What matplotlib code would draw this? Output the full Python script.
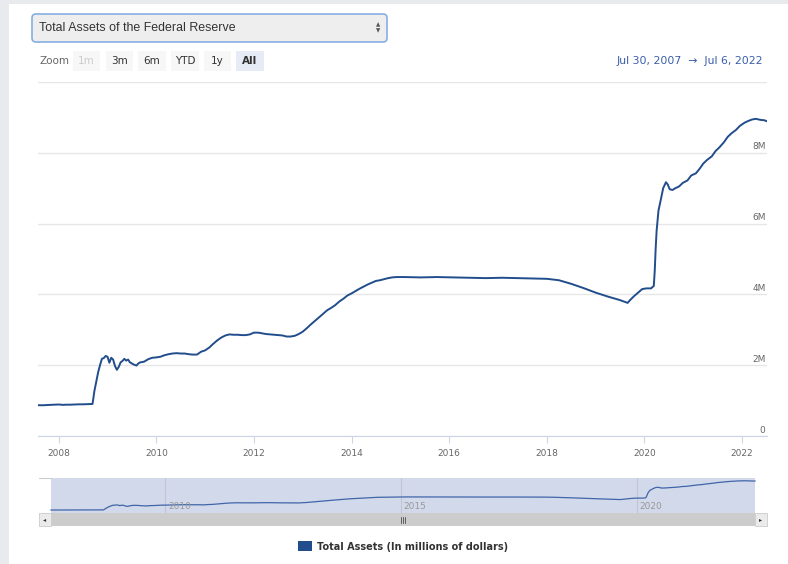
import numpy as np
import pandas as pd
import matplotlib
matplotlib.use("Agg")
import matplotlib.pyplot as plt
import matplotlib.dates as mdates
from matplotlib.patches import Rectangle, FancyBboxPatch

# Fed total assets, millions of dollars
dates = [
    "2007-07-30", "2007-09-01", "2007-10-01", "2007-11-01", "2007-12-01",
    "2008-01-01", "2008-02-01", "2008-03-01", "2008-04-01", "2008-05-01",
    "2008-06-01", "2008-07-01", "2008-08-01", "2008-09-10", "2008-09-24",
    "2008-10-08", "2008-10-22", "2008-11-05", "2008-11-19", "2008-12-03",
    "2008-12-17", "2008-12-31", "2009-01-14", "2009-01-28", "2009-02-11",
    "2009-02-25", "2009-03-11", "2009-03-25", "2009-04-08", "2009-04-22",
    "2009-05-06", "2009-05-20", "2009-06-03", "2009-06-17", "2009-07-01",
    "2009-07-15", "2009-08-05", "2009-08-19", "2009-09-02", "2009-10-01",
    "2009-11-01", "2009-12-01", "2010-01-01", "2010-02-01", "2010-03-01",
    "2010-04-01", "2010-05-01", "2010-06-01", "2010-07-01", "2010-08-01",
    "2010-09-01", "2010-10-01", "2010-11-01", "2010-12-01", "2011-01-01",
    "2011-02-01", "2011-03-01", "2011-04-01", "2011-05-01", "2011-06-01",
    "2011-07-01", "2011-08-01", "2011-09-01", "2011-10-01", "2011-11-01",
    "2011-12-01", "2012-01-01", "2012-02-01", "2012-03-01", "2012-04-01",
    "2012-05-01", "2012-06-01", "2012-07-01", "2012-08-01", "2012-09-01",
    "2012-10-01", "2012-11-01", "2012-12-01", "2013-01-01", "2013-02-01",
    "2013-03-01", "2013-04-01", "2013-05-01", "2013-06-01", "2013-07-01",
    "2013-08-01", "2013-09-01", "2013-10-01", "2013-11-01", "2013-12-01",
    "2014-01-01", "2014-02-01", "2014-03-01", "2014-04-01", "2014-05-01",
    "2014-06-01", "2014-07-01", "2014-08-01", "2014-09-01", "2014-10-01",
    "2014-11-01", "2014-12-01", "2015-02-01", "2015-06-01", "2015-10-01",
    "2016-02-01", "2016-06-01", "2016-10-01", "2017-02-01", "2017-06-01",
    "2017-10-01", "2018-01-01", "2018-04-01", "2018-07-01", "2018-10-01",
    "2019-01-01", "2019-04-01", "2019-07-01", "2019-08-28", "2019-09-18",
    "2019-10-15", "2019-11-15", "2019-12-15", "2020-01-15", "2020-02-19",
    "2020-03-11", "2020-03-18", "2020-03-25", "2020-04-01", "2020-04-15",
    "2020-05-01", "2020-05-20", "2020-06-10", "2020-06-24", "2020-07-08",
    "2020-07-29", "2020-08-19", "2020-09-16", "2020-10-14", "2020-11-18",
    "2020-12-16", "2021-01-20", "2021-02-17", "2021-03-17", "2021-04-14",
    "2021-05-19", "2021-06-16", "2021-07-14", "2021-08-18", "2021-09-15",
    "2021-10-13", "2021-11-17", "2021-12-15", "2022-01-19", "2022-02-16",
    "2022-03-16", "2022-04-13", "2022-05-18", "2022-06-15", "2022-07-06",
]
assets = [
    870000, 868000, 875000, 880000, 885000,
    890000, 880000, 885000, 885000, 890000,
    895000, 895000, 900000, 905000, 1270000,
    1540000, 1800000, 2000000, 2180000, 2200000,
    2260000, 2240000, 2070000, 2210000, 2160000,
    1980000, 1870000, 1950000, 2080000, 2120000,
    2180000, 2130000, 2160000, 2080000, 2050000,
    2020000, 1990000, 2050000, 2080000, 2100000,
    2170000, 2210000, 2220000, 2240000, 2280000,
    2310000, 2330000, 2340000, 2330000, 2330000,
    2310000, 2300000, 2300000, 2380000, 2420000,
    2500000, 2600000, 2700000, 2780000, 2840000,
    2870000, 2860000, 2860000, 2850000, 2850000,
    2870000, 2920000, 2920000, 2900000, 2880000,
    2870000, 2860000, 2850000, 2840000, 2810000,
    2810000, 2830000, 2880000, 2950000, 3050000,
    3150000, 3250000, 3350000, 3450000, 3550000,
    3620000, 3700000, 3800000, 3880000, 3970000,
    4030000, 4100000, 4160000, 4220000, 4280000,
    4330000, 4380000, 4400000, 4430000, 4460000,
    4480000, 4490000, 4490000, 4480000, 4490000,
    4480000, 4470000, 4460000, 4470000, 4460000,
    4450000, 4440000, 4400000, 4300000, 4180000,
    4050000, 3940000, 3840000, 3760000, 3850000,
    3950000, 4050000, 4150000, 4170000, 4170000,
    4240000, 4670000, 5300000, 5800000, 6370000,
    6650000, 7000000, 7170000, 7100000, 6970000,
    6950000, 7000000, 7050000, 7150000, 7220000,
    7360000, 7420000, 7550000, 7700000, 7800000,
    7900000, 8050000, 8150000, 8300000, 8450000,
    8550000, 8650000, 8760000, 8850000, 8900000,
    8940000, 8960000, 8930000, 8920000, 8890000,
]
year_ticks = [2008, 2010, 2012, 2014, 2016, 2018, 2020, 2022]
value_ticks = [0, 2000000, 4000000, 6000000, 8000000, 10000000]
value_labels = ["0", "2M", "4M", "6M", "8M", ""]
nav_years = [2010, 2015, 2020]
buttons = ["1m", "3m", "6m", "YTD", "1y", "All"]

x = pd.to_datetime(dates)
start, end = pd.Timestamp("2007-07-30"), pd.Timestamp("2022-07-06")

W, H = 788, 564
fig = plt.figure(figsize=(W / 100, H / 100), dpi=100, facecolor="white")

def px(l, t, r, b):
    return [l / W, 1 - b / H, (r - l) / W, (b - t) / H]

line_col = "#214d8c"
grey_txt = "#666666"

# overlay in pixel coords for the page chrome
ov = fig.add_axes([0, 0, 1, 1])
ov.set_xlim(0, W)
ov.set_ylim(H, 0)
ov.axis("off")
ov.add_patch(Rectangle((0, 0), 9, H, color="#e8eaed", lw=0))
ov.add_patch(Rectangle((0, 0), W, 4, color="#e8eaed", lw=0))

# dropdown
ov.add_patch(FancyBboxPatch((32, 14), 355, 28, boxstyle="round,pad=0,rounding_size=4",
                            fc="#eeeeee", ec="#88aee3", lw=1.2))
ov.text(39, 28, "Total Assets of the Federal Reserve", fontsize=8.9,
        family="Liberation Sans", color="#333333", va="center")
ov.text(378, 24.5, "\u25b2", fontsize=4, color="#555555", ha="center", va="center")
ov.text(378, 31, "\u25bc", fontsize=4, color="#555555", ha="center", va="center")

# range selector
ov.text(40, 61.5, "Zoom", fontsize=7.5, color=grey_txt, va="center")
bx = [(73, 100), (106, 133), (138, 166), (171, 199), (204, 231), (236, 264)]
for (l, r), lab in zip(bx, buttons):
    sel = lab == "All"
    ov.add_patch(Rectangle((l, 51), r - l, 20, fc="#e6ebf5" if sel else "#f7f7f7", lw=0))
    ov.text((l + r) / 2, 61.5, lab, fontsize=7.5, ha="center", va="center",
            color="#cccccc" if lab == "1m" else "#333333",
            fontweight="bold" if sel else "normal")
ov.text(763, 61, "Jul 30, 2007  \u2192  Jul 6, 2022", fontsize=7.8, ha="right",
        va="center", color="#3a5daa")

# main chart
ax = fig.add_axes(px(38, 82, 767, 436))
ax.set_facecolor("none")
ax.plot(x, assets, color=line_col, lw=1.4, solid_joinstyle="round")
ax.set_xlim(start, end)
ax.set_ylim(0, 10000000)
for s in ["top", "left", "right"]:
    ax.spines[s].set_visible(False)
ax.spines["bottom"].set_color("#ccd6eb")
ax.spines["bottom"].set_zorder(0)
ax.set_yticks(value_ticks)
ax.yaxis.grid(True, color="#e6e6e6", lw=1)
ax.set_axisbelow(True)
ax.tick_params(axis="y", length=0, labelleft=False)
ax.set_xticks([pd.Timestamp(f"{y}-01-01") for y in year_ticks])
ax.set_xticklabels([str(y) for y in year_ticks])
ax.tick_params(axis="x", length=5, color="#ccd6eb", labelsize=6.5,
               labelcolor=grey_txt, pad=4)
for v, lab in zip(value_ticks, value_labels):
    if lab:
        ax.annotate(lab, xy=(1, v), xycoords=("axes fraction", "data"),
                    xytext=(-1, 1), textcoords="offset points",
                    ha="right", va="bottom", fontsize=6.5, color=grey_txt)

# navigator
pad = pd.Timedelta(days=93)
nav = fig.add_axes(px(39, 478, 767, 513))
nav.set_facecolor("white")
nav.set_xlim(start - pad, end + pad)
nav.set_ylim(40000, 9730000)
nav.axvspan(start, end, color="#d2d9ea", lw=0, zorder=0)
for y in nav_years:
    d = pd.Timestamp(f"{y}-01-01")
    nav.axvline(d, color="#c0c6d6", lw=0.8, zorder=1)
    nav.annotate(str(y), xy=(d, 0), xycoords=("data", "axes fraction"),
                 xytext=(2, 1.5), textcoords="offset points", fontsize=6.5,
                 color="#999999", ha="left", va="bottom")
nav.plot(x, assets, color="#4065a8", lw=0.9, zorder=2)
nav.set_xticks([])
nav.set_yticks([])
for s in nav.spines.values():
    s.set_visible(False)
nav.axhline(9730000, xmin=0, xmax=12 / 728, color="#cccccc", lw=0.8)

# handles (pixel overlay)
for hx in (51, 755):
    ov.add_patch(Rectangle((hx - 3.5, 488), 7, 13, fc="#f2f2f2", ec="#999999", lw=0.8, zorder=5))
    ov.plot([hx - 1, hx - 1], [491, 498], color="#999999", lw=0.6, zorder=6)
    ov.plot([hx + 1, hx + 1], [491, 498], color="#999999", lw=0.6, zorder=6)

# scrollbar
ov.add_patch(Rectangle((39, 513), 728, 13, fc="#f2f2f2", lw=0, zorder=3))
ov.add_patch(Rectangle((51, 513), 704, 13, fc="#cccccc", lw=0, zorder=4))
ov.add_patch(Rectangle((39, 513), 12, 13, fc="#ebebeb", ec="#cccccc", lw=0.6, zorder=4))
ov.add_patch(Rectangle((755, 513), 12, 13, fc="#ebebeb", ec="#cccccc", lw=0.6, zorder=4))
ov.text(45, 519.5, "\u25c2", fontsize=4.5, color="#333333", ha="center", va="center", zorder=6)
ov.text(761, 519.5, "\u25b8", fontsize=4.5, color="#333333", ha="center", va="center", zorder=6)
for dx in (-2, 0, 2):
    ov.plot([403 + dx, 403 + dx], [516.5, 522.5], color="#333333", lw=0.5, zorder=6)

# legend
ov.add_patch(Rectangle((298, 541), 14, 10, fc=line_col, lw=0, zorder=5))
ov.text(317, 546.5, "Total Assets (In millions of dollars)", fontsize=7.0,
        fontweight="bold", color="#333333", va="center")

fig.savefig("out.png", dpi=100, facecolor="white")
